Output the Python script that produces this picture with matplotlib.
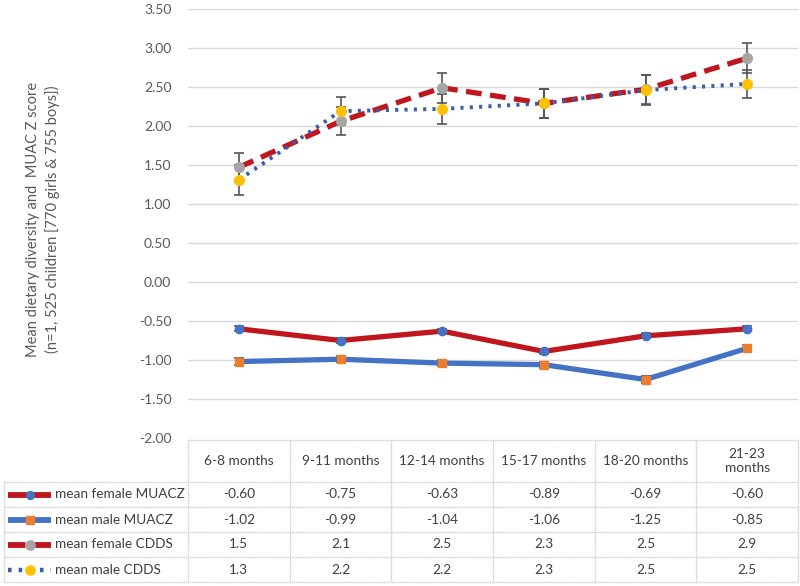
import matplotlib
matplotlib.use("Agg")
import matplotlib.pyplot as plt

plt.rcParams['font.family'] = ['Lato', 'DejaVu Sans']

categories = ["6-8 months", "9-11 months", "12-14 months", "15-17 months", "18-20 months", "21-23\nmonths"]
female_muacz = [-0.60, -0.75, -0.63, -0.89, -0.69, -0.60]
male_muacz = [-1.02, -0.99, -1.04, -1.06, -1.25, -0.85]
female_cdds = [1.47, 2.06, 2.49, 2.29, 2.47, 2.87]
male_cdds = [1.31, 2.19, 2.22, 2.29, 2.46, 2.54]
female_muacz_err = [0.03, 0.03, 0.03, 0.03, 0.03, 0.03]
male_muacz_err = [0.04, 0.04, 0.04, 0.04, 0.04, 0.04]
female_cdds_err = [0.19, 0.18, 0.19, 0.19, 0.19, 0.19]
male_cdds_err = [0.19, 0.18, 0.19, 0.19, 0.19, 0.18]
series_names = ["mean female MUACZ", "mean male MUACZ", "mean female CDDS", "mean male CDDS"]
yticks = [3.5, 3.0, 2.5, 2.0, 1.5, 1.0, 0.5, 0.0, -0.5, -1.0, -1.5, -2.0]

W, H = 800, 586
fig = plt.figure(figsize=(W / 100, H / 100), dpi=100)
x0, x1 = 188, 798
ytop, ybot = 9, 438
ax = fig.add_axes([x0 / W, 1 - ybot / H, (x1 - x0) / W, (ybot - ytop) / H])

RED = "#C0161E"
BLUE = "#4472C4"
ORANGE = "#ED7D31"
GRAY = "#A5A5A5"
YELLOW = "#FFC000"
DBLUE = "#3A5DA8"
ECOL = "#555555"
TXT = "#404040"

xs = list(range(len(categories)))

styles = [
    dict(color=RED, lw=3.8, ls="-", marker="o", mfc=BLUE, mec=BLUE, ms=6),
    dict(color=BLUE, lw=3.8, ls="-", marker="s", mfc=ORANGE, mec=ORANGE, ms=5.5),
    dict(color=RED, lw=3.8, ls=(0, (3, 1.6)), marker="o", mfc=GRAY, mec=GRAY, ms=7),
    dict(color=DBLUE, lw=2.8, ls=(0, (0.8, 1.6)), marker="o", mfc=YELLOW, mec=YELLOW, ms=7),
]
data = [female_muacz, male_muacz, female_cdds, male_cdds]
errs = [female_muacz_err, male_muacz_err, female_cdds_err, male_cdds_err]

for d, e, st in zip(data, errs, styles):
    ax.plot(xs, d, color=st["color"], lw=st["lw"], ls=st["ls"], zorder=3)
for d, e, st in zip(data, errs, styles):
    ax.errorbar(xs, d, yerr=e, fmt="none", ecolor=ECOL, elinewidth=1.2, capsize=3.5, capthick=1.2, zorder=4)
    ax.plot(xs, d, ls="none", marker=st["marker"], mfc=st["mfc"], mec=st["mec"], ms=st["ms"], zorder=5)

ax.set_xlim(-0.5, len(categories) - 0.5)
ax.set_ylim(-2.0, 3.5)
ax.set_yticks(yticks)
ax.set_yticklabels([f"{v:.2f}" for v in yticks], color="#595959", fontsize=10)
ax.tick_params(axis="y", length=0, pad=12)
ax.set_xticks([])
ax.grid(axis="y", color="#D9D9D9", lw=1)
for s in ax.spines.values():
    s.set_visible(False)
ax.set_axisbelow(True)

fig.text(43 / W, 1 - 219 / H,
         "Mean dietary diversity and  MUAC Z score\n(n=1, 525 children [770 girls & 755 boys])",
         rotation=90, ha="center", va="center", color="#595959", fontsize=10.5,
         linespacing=1.45, multialignment="center")

# table overlay
tx = fig.add_axes([0, 0, 1, 1])
tx.set_xlim(0, W)
tx.set_ylim(H, 0)
tx.axis("off")
tx.patch.set_alpha(0)

gcol = "#D0D0D0"
htop, hbot = 440, 482
row_h = 25
nrows = len(series_names)
tbot = hbot + nrows * row_h
colw = (x1 - x0) / len(categories)
lkw = dict(color=gcol, lw=1, ls=(0, (1, 0.5)))

tx.plot([x0, x1], [htop, htop], **lkw)
for r in range(nrows + 1):
    y = hbot + r * row_h
    tx.plot([4, x1], [y, y], **lkw)
for c in range(len(categories) + 1):
    xx = x0 + c * colw
    tx.plot([xx, xx], [htop, tbot], **lkw)
tx.plot([4, 4], [hbot, tbot], **lkw)

FS = 9.8
for c, cat in enumerate(categories):
    tx.text(x0 + (c + 0.5) * colw, (htop + hbot) / 2, cat, ha="center", va="center",
            fontsize=FS, color=TXT, linespacing=1.25)

for r, (name, d, st) in enumerate(zip(series_names, data, styles)):
    yc = hbot + (r + 0.5) * row_h
    tx.plot([8, 51], [yc, yc], color=st["color"], lw=st["lw"] + 0.4, ls=st["ls"],
            solid_capstyle="butt", dash_capstyle="butt")
    tx.plot([29.5], [yc], marker=st["marker"], mfc=st["mfc"], mec=st["mec"], ms=st["ms"] * 0.95)
    tx.text(55, yc, name, ha="left", va="center", fontsize=FS, color=TXT)
    for c, v in enumerate(d):
        lab = f"{v:.2f}" if r < 2 else f"{v:.1f}"
        tx.text(x0 + (c + 0.5) * colw, yc, lab, ha="center", va="center", fontsize=FS, color=TXT)

fig.savefig("out.png", dpi=100)
